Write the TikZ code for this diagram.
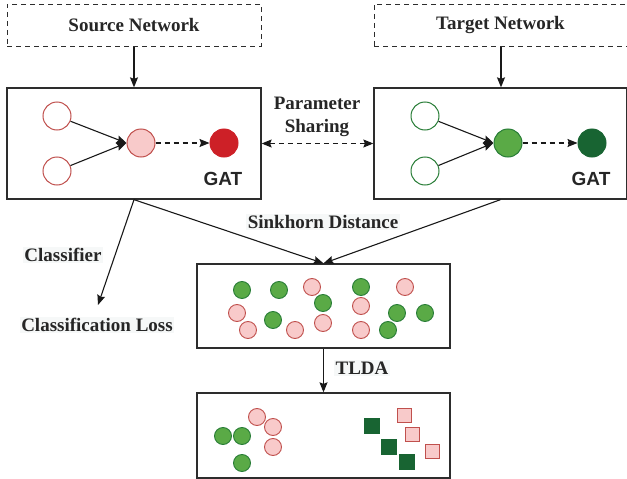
\documentclass[tikz,border=0pt]{standalone}
\usepackage{fontspec}
\setmainfont{Liberation Serif}
\newfontfamily\gatfont{Liberation Sans}
\usetikzlibrary{arrows.meta}
\definecolor{pinkfill}{RGB}{248,202,202}
\definecolor{pinkdraw}{RGB}{192,80,77}
\definecolor{redfill}{RGB}{205,32,39}
\definecolor{greenfill}{RGB}{90,170,70}
\definecolor{greendraw}{RGB}{40,125,55}
\definecolor{dkgreen}{RGB}{24,100,50}
\definecolor{boxline}{RGB}{45,45,45}
\definecolor{labelbg}{RGB}{246,248,248}
\tikzset{
  frame/.style={draw=boxline, line width=1.3pt, rectangle, inner sep=0pt},
  dframe/.style={draw=boxline, line width=1pt, rectangle, inner sep=0pt, dash pattern=on 5pt off 4pt},
  lbl/.style={font=\fontsize{19}{22}\selectfont\bfseries, text=black!85, fill=labelbg, inner sep=1.5pt},
  gatlbl/.style={font=\gatfont\fontsize{19}{22}\selectfont\bfseries, text=black!85, inner sep=0pt},
  arr/.style={draw=black!90, line width=1.1pt, -{Stealth[length=10pt,width=8pt,inset=1.5pt]}},
  darr/.style={arr, dash pattern=on 5pt off 4pt},
  hollowred/.style={circle, draw=pinkdraw, fill=white, line width=1pt, minimum size=28pt, inner sep=0pt},
  hollowgreen/.style={circle, draw=greendraw, fill=white, line width=1pt, minimum size=28pt, inner sep=0pt},
  pinkbig/.style={circle, draw=pinkdraw, fill=pinkfill, line width=1pt, minimum size=28pt, inner sep=0pt},
  redbig/.style={circle, draw=redfill, fill=redfill, line width=1pt, minimum size=28pt, inner sep=0pt},
  greenbig/.style={circle, draw=greendraw, fill=greenfill, line width=1pt, minimum size=28pt, inner sep=0pt},
  dkgreenbig/.style={circle, draw=dkgreen, fill=dkgreen, line width=1pt, minimum size=28pt, inner sep=0pt},
  pdot/.style={circle, draw=pinkdraw, fill=pinkfill, line width=0.9pt, minimum size=17pt, inner sep=0pt},
  gdot/.style={circle, draw=greendraw, fill=greenfill, line width=0.9pt, minimum size=17pt, inner sep=0pt},
  psq/.style={rectangle, draw=pinkdraw, fill=pinkfill, line width=0.9pt, minimum size=14pt, inner sep=0pt},
  gsq/.style={rectangle, draw=dkgreen, fill=dkgreen, line width=0.9pt, minimum size=15pt, inner sep=0pt},
}
\begin{document}
\begin{tikzpicture}[x=1pt,y=-1pt]
\useasboundingbox (0,0) rectangle (627,479);
% top dashed boxes
\node[dframe, minimum width=254pt, minimum height=42pt, lbl, fill=none, inner sep=0pt] (srcnet) at (134,25) {Source Network};
\node[dframe, minimum width=253pt, minimum height=42pt, lbl, fill=none, inner sep=0pt] (tgtnet) at (500.5,25) {Target Network};
% GAT boxes
\node[frame, minimum width=254pt, minimum height=111pt] (srcgat) at (134,143.5) {};
\node[frame, minimum width=253pt, minimum height=111pt] (tgtgat) at (500.5,143.5) {};
% source GAT internals
\node[hollowred] (s1) at (57,116) {};
\node[hollowred] (s2) at (57,171) {};
\node[pinkbig] (s3) at (141,143) {};
\node[redbig] (s4) at (224,143) {};
\node[gatlbl] (sgat) at (223,179) {GAT};
\draw[arr] (s1) -- (s3.west);
\draw[arr] (s2) -- (s3.west);
\draw[darr] (s3) -- (s4);
% target GAT internals
\node[hollowgreen] (t1) at (425,116) {};
\node[hollowgreen] (t2) at (425,171) {};
\node[greenbig] (t3) at (508,143) {};
\node[dkgreenbig] (t4) at (592,143) {};
\node[gatlbl] (tgat) at (591,179) {GAT};
\draw[arr] (t1) -- (t3.west);
\draw[arr] (t2) -- (t3.west);
\draw[darr] (t3) -- (t4);
% arrows from networks
\draw[arr] (srcnet) -- (srcgat);
\draw[arr] (tgtnet.south -| 501,0) -- (tgtgat.north -| 501,0);
% parameter sharing
\node[lbl, fill=none, align=center, font=\fontsize{19}{23}\selectfont\bfseries] (ps) at (317,116.5) {Parameter\\Sharing};
\draw[darr, {Stealth[length=10pt,width=8pt,inset=1.5pt]}-{Stealth[length=10pt,width=8pt,inset=1.5pt]}] (srcgat.east) -- (tgtgat.west);
% middle and bottom boxes
\node[frame, minimum width=253pt, minimum height=84pt] (mid) at (323.5,306) {};
\node[frame, minimum width=253pt, minimum height=85pt] (bot) at (323.5,435.5) {};
% sinkhorn
\node[lbl] (sink) at (323,222) {Sinkhorn Distance};
\draw[arr] (srcgat.south) -- (mid.north);
\draw[arr] (tgtgat.south) -- (mid.north);
% classifier
\node[lbl] (cls) at (63,255) {Classifier};
\node[lbl] (closs) at (97,325) {Classification Loss};
\coordinate (clstip) at (98,305);
\draw[arr] (srcgat.south) -- (clstip);
% TLDA
\node[lbl] (tlda) at (362,368) {TLDA};
\draw[arr] (mid.south) -- (bot.north);
% middle dots
\node[pdot] (m1) at (312,287) {};
\node[pdot] (m2) at (237,313) {};
\node[pdot] (m3) at (248,330) {};
\node[pdot] (m4) at (295,330) {};
\node[pdot] (m5) at (323,323) {};
\node[pdot] (m6) at (361,306) {};
\node[pdot] (m7) at (361,330) {};
\node[pdot] (m8) at (405,287) {};
\node[gdot] (g1) at (242,290) {};
\node[gdot] (g2) at (279,290) {};
\node[gdot] (g3) at (273,320) {};
\node[gdot] (g4) at (323,303) {};
\node[gdot] (g5) at (361,287) {};
\node[gdot] (g6) at (397,313) {};
\node[gdot] (g7) at (425,313) {};
\node[gdot] (g8) at (388,330) {};
% bottom clusters
\node[gdot] (b1) at (223,436) {};
\node[gdot] (b2) at (242,436) {};
\node[gdot] (b3) at (242,463) {};
\node[pdot] (b4) at (257,417) {};
\node[pdot] (b5) at (273,427) {};
\node[pdot] (b6) at (273,447) {};
\node[gsq] (q1) at (372,426) {};
\node[gsq] (q2) at (389,447) {};
\node[gsq] (q3) at (407,462) {};
\node[psq] (r1) at (404,415) {};
\node[psq] (r2) at (412,434) {};
\node[psq] (r3) at (432,451) {};
\end{tikzpicture}
\end{document}
